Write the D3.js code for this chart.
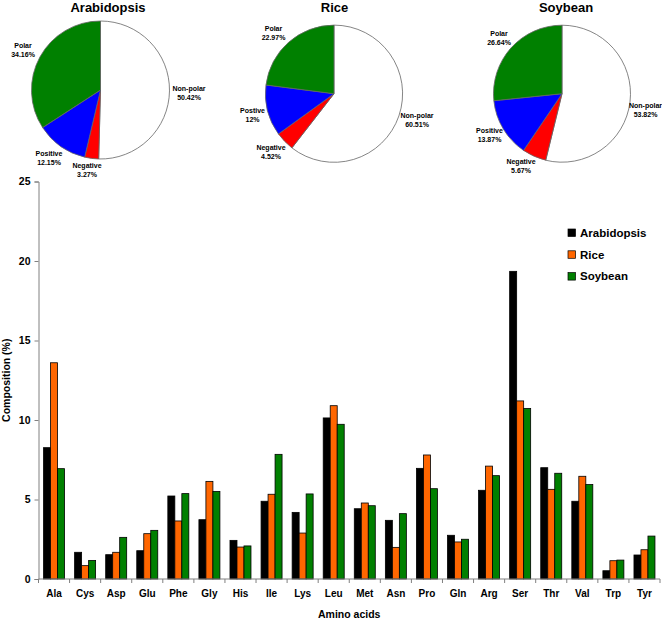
<!DOCTYPE html>
<html>
<head>
<meta charset="utf-8">
<script src="https://cdn.jsdelivr.net/npm/d3@7"></script>
<style>
  html, body { margin: 0; padding: 0; background: #fff; }
  svg { display: block; font-family: "Liberation Sans", Arial, sans-serif; }
</style>
</head>
<body>
<svg id="chart" width="662" height="620"></svg>
<script>
// ---------- DATA ----------
const categories = ["Ala","Cys","Asp","Glu","Phe","Gly","His","Ile","Lys","Leu","Met","Asn","Pro","Gln","Arg","Ser","Thr","Val","Trp","Tyr"];
const series = ["Arabidopsis","Rice","Soybean"];
const arabidopsis = [8.26,1.68,1.53,1.78,5.22,3.73,2.43,4.89,4.19,10.13,4.42,3.69,6.96,2.75,5.58,19.35,7.0,4.89,0.52,1.51];
const rice        = [13.6,0.84,1.68,2.85,3.65,6.14,2.01,5.33,2.89,10.9,4.78,1.99,7.8,2.33,7.1,11.2,5.64,6.46,1.15,1.84];
const soybean     = [6.94,1.17,2.62,3.06,5.37,5.51,2.08,7.84,5.35,9.73,4.61,4.11,5.68,2.5,6.5,10.73,6.65,5.94,1.19,2.7];
const yTicks = [0,5,10,15,20,25];

const pieGroups = ["Non-polar","Negative","Positive","Polar"];
const arabidopsisPie = [50.42,3.27,12.15,34.16];
const ricePie        = [60.51,4.52,12,22.97];
const soybeanPie     = [53.82,5.67,13.87,26.64];
const arabidopsisPieLabels = ["Non-polar","Negative","Positive","Polar"];
const ricePieLabels        = ["Non-polar","Negative","Postive","Polar"];
const soybeanPieLabels     = ["Non-polar","Negative","Positive","Polar"];

// ---------- STYLE / LAYOUT ----------
const barColors = {"Arabidopsis":"#000000","Rice":"#FF6600","Soybean":"#008000"};
const pieColors = {"Non-polar":"#FFFFFF","Negative":"#FF0000","Positive":"#0000FF","Polar":"#008000"};
const fontBold = "bold";

const svg = d3.select("#chart");

// ---------- BAR CHART ----------
const plot = {left: 38.5, right: 660, top: 181.5, bottom: 579};
const x0 = d3.scaleBand().domain(categories).range([plot.left, plot.right]).padding(0);
const x1 = d3.scaleBand().domain(series).range([0, x0.bandwidth()]).paddingInner(0).paddingOuter(0.72);
const y = d3.scaleLinear().domain([0, 25]).range([plot.bottom, plot.top]);

const valuesBySeries = {"Arabidopsis": arabidopsis, "Rice": rice, "Soybean": soybean};
const rows = categories.map((c, i) => ({cat: c, vals: series.map(s => ({s, v: valuesBySeries[s][i]}))}));

const groups = svg.append("g").selectAll("g").data(rows).join("g")
  .attr("transform", d => `translate(${x0(d.cat)},0)`);
groups.selectAll("rect").data(d => d.vals).join("rect")
  .attr("x", d => x1(d.s))
  .attr("width", x1.bandwidth())
  .attr("y", d => y(d.v))
  .attr("height", d => y(0) - y(d.v))
  .attr("fill", d => barColors[d.s])
  .attr("stroke", "#000")
  .attr("stroke-width", 0.8);

// Y axis
const yAxis = d3.axisLeft(y).tickValues(yTicks).tickSize(4).tickPadding(4);
const gy = svg.append("g").attr("transform", `translate(${plot.left},0)`).call(yAxis);
gy.select(".domain").attr("stroke", "#808080").attr("stroke-width", 1);
gy.selectAll(".tick line").attr("stroke", "#808080");
gy.selectAll(".tick text").attr("font-size", 10.5).attr("font-weight", fontBold)
  .attr("font-family", "Liberation Sans, Arial, sans-serif").attr("fill", "#000");

// X axis: line + ticks at category boundaries
const gx = svg.append("g").attr("transform", `translate(0,${plot.bottom})`);
gx.append("line").attr("x1", plot.left).attr("x2", plot.right).attr("y1", 0).attr("y2", 0)
  .attr("stroke", "#808080").attr("stroke-width", 1);
const boundaries = categories.map(c => x0(c)).concat([plot.right]);
gx.selectAll("line.tk").data(boundaries).join("line").attr("class", "tk")
  .attr("x1", d => d).attr("x2", d => d).attr("y1", 0).attr("y2", 4)
  .attr("stroke", "#808080");
gx.selectAll("text").data(categories).join("text")
  .attr("x", d => x0(d) + x0.bandwidth() / 2)
  .attr("y", 18)
  .attr("text-anchor", "middle")
  .attr("font-size", 10)
  .attr("font-weight", fontBold)
  .text(d => d);

// Axis titles
svg.append("text")
  .attr("transform", `translate(10,${(plot.top + plot.bottom) / 2}) rotate(-90)`)
  .attr("text-anchor", "middle").attr("font-size", 10.5).attr("font-weight", fontBold)
  .text("Composition (%)");
svg.append("text")
  .attr("x", (plot.left + plot.right) / 2).attr("y", 618)
  .attr("text-anchor", "middle").attr("font-size", 10.5).attr("font-weight", fontBold)
  .text("Amino acids");

// Legend
const legend = svg.append("g").attr("transform", "translate(568,229)");
const lg = legend.selectAll("g").data(series).join("g")
  .attr("transform", (d, i) => `translate(0,${i * 21.8})`);
lg.append("rect").attr("width", 7.5).attr("height", 7.5)
  .attr("fill", d => barColors[d]).attr("stroke", "#000").attr("stroke-width", 0.7);
lg.append("text").attr("x", 12).attr("y", 7.8)
  .attr("font-size", 11.5).attr("font-weight", fontBold).text(d => d);

// ---------- PIES ----------
const pies = [
  {title: "Arabidopsis", values: arabidopsisPie, labels: arabidopsisPieLabels,
   cx: 100.5, cy: 90, r: 69, tx: 108,
   pos: [[189, 88], [87, 165], [49, 153], [23, 45]]},
  {title: "Rice", values: ricePie, labels: ricePieLabels,
   cx: 334, cy: 93.7, r: 68.6, tx: 334.5,
   pos: [[417, 115.5], [271, 147], [252.5, 110.5], [273.5, 28.3]]},
  {title: "Soybean", values: soybeanPie, labels: soybeanPieLabels,
   cx: 562, cy: 93.7, r: 68.5, tx: 566,
   pos: [[645.5, 105.5], [521, 161.7], [489.5, 130.7], [499, 33.3]]}
];

const pieGen = d3.pie().sort(null).value(d => d.v).startAngle(0).endAngle(2 * Math.PI);

pies.forEach(p => {
  const data = pieGroups.map((g, i) => ({g, v: p.values[i], label: p.labels[i], pos: p.pos[i]}));
  const arc = d3.arc().innerRadius(0).outerRadius(p.r);
  const g = svg.append("g").attr("transform", `translate(${p.cx},${p.cy})`);
  g.selectAll("path").data(pieGen(data)).join("path")
    .attr("d", arc)
    .attr("fill", d => pieColors[d.data.g])
    .attr("stroke", "#666")
    .attr("stroke-width", 0.8);

  svg.append("text").attr("x", p.tx).attr("y", 12)
    .attr("text-anchor", "middle").attr("font-size", 13).attr("font-weight", fontBold)
    .text(p.title);

  const lt = svg.append("g").selectAll("text").data(data).join("text")
    .attr("text-anchor", "middle").attr("font-size", 7).attr("font-weight", fontBold);
  lt.append("tspan").attr("x", d => d.pos[0]).attr("y", d => d.pos[1] + 2.5).text(d => d.label);
  lt.append("tspan").attr("x", d => d.pos[0]).attr("y", d => d.pos[1] + 11.5).text(d => d.v + "%");
});
</script>
</body>
</html>
